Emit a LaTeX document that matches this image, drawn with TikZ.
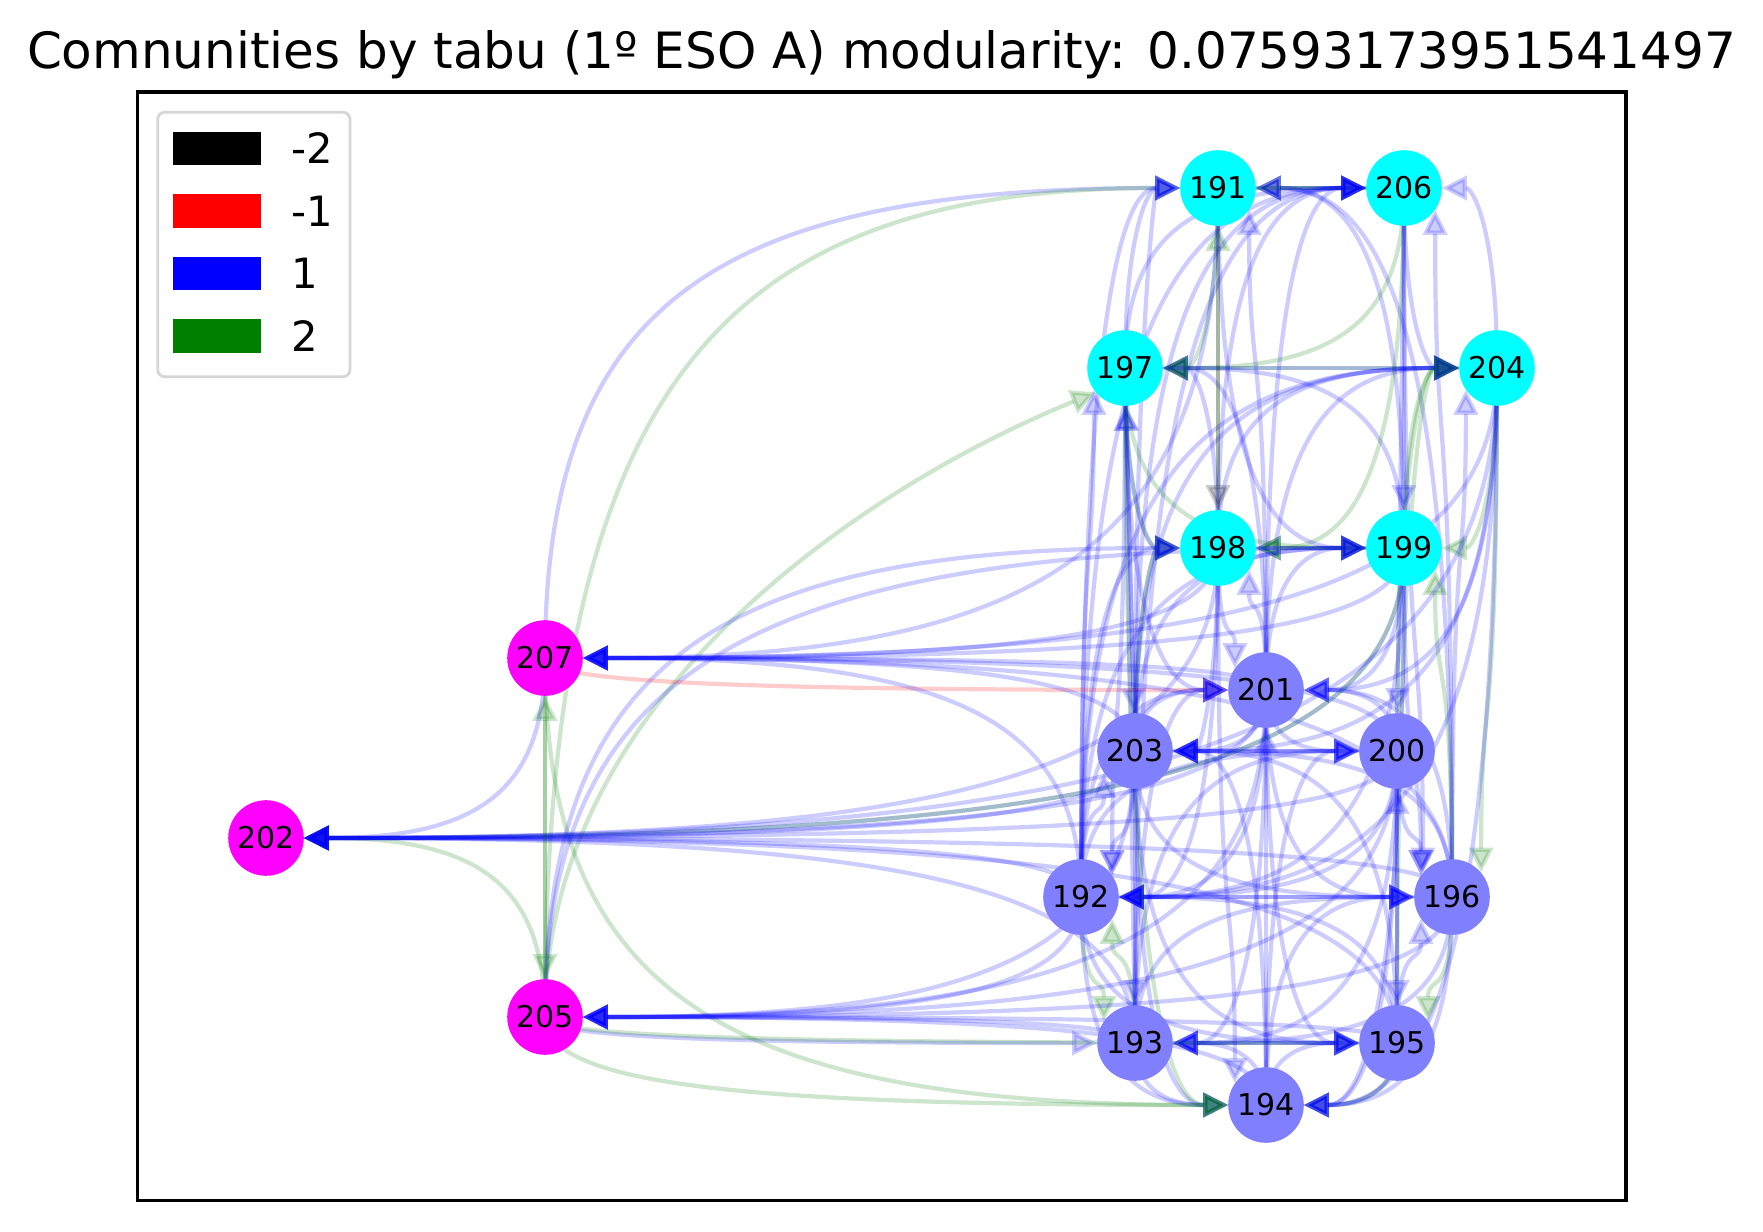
\documentclass[tikz,border=0pt]{standalone}
\usepackage{fontspec}
\setmainfont{DejaVu Sans}
\usetikzlibrary{arrows.meta,calc}
\pgfdeclarelayer{bgl}
\pgfdeclarelayer{edges}
\pgfsetlayers{bgl,edges,main}
\definecolor{ncyan}{RGB}{0,255,255}
\definecolor{nmag}{RGB}{255,0,255}
\definecolor{nblue}{RGB}{128,128,255}
\definecolor{egreen}{RGB}{0,128,0}
\definecolor{eblue}{RGB}{0,0,255}
\definecolor{ered}{RGB}{255,0,0}
\definecolor{eblack}{RGB}{0,0,0}
\definecolor{legline}{RGB}{214,214,214}
\tikzset{
  vx/.style={circle, minimum size=75.6pt, inner sep=0pt, draw=none, font=\fontsize{30}{36}\selectfont},
  ed/.style={line width=4.2pt, draw=#1, opacity=0.2, -{Triangle[length=25pt,width=24pt]}, shorten >=37.8pt},
  edk/.style={line width=4.2pt, draw=#1, opacity=0.2, -{Triangle[length=25pt,width=24pt]}},
  legpatch/.style={fill=#1, draw=none},
  leglabel/.style={anchor=base west, inner sep=0pt, font=\fontsize{41.7}{50}\selectfont},
}
% straight edge
\newcommand\EdS[3]{\draw[ed=#3] (#1.center) -- (#2.center);}
% curved edge: vertical out of the source, horizontal into the target
\newcommand\EdC[3]{\draw[ed=#3] (#1.center) .. controls ($(#1.center)!0.75!(#1.center|-#2.center)$) and ($(#2.center)!0.75!(#1.center|-#2.center)$) .. (#2.center);}
% curved edge with a short horizontal leg: ends on the target border at the given angle
\newcommand\EdK[4]{\draw[edk=#3] (#1.center) .. controls ($(#1.center)!0.75!(#1.center|-#2.center)$) and ($(#2.#4)!0.4!(#2.#4|-#1.center)$) .. (#2.#4);}
\begin{document}
\begin{tikzpicture}[x=1pt,y=-1pt]
\useasboundingbox (0,0) rectangle (1763,1231);
\begin{pgfonlayer}{bgl}
\fill[white] (0,0) rectangle (1763,1231);
\end{pgfonlayer}
% title
\node[anchor=base, inner sep=0pt, font=\fontsize{50}{60}\selectfont] (title) at (881.5,68) {Comnunities by tabu (1º ESO A) modularity: 0.07593173951541497};
% frame
\draw[line width=3.3pt] (137.5,92) rectangle (1626,1200.5);
% nodes
\node[vx, fill=ncyan] (n191) at (1218,188) {191};
\node[vx, fill=ncyan] (n206) at (1404,188) {206};
\node[vx, fill=ncyan] (n197) at (1125,368) {197};
\node[vx, fill=ncyan] (n204) at (1497,368) {204};
\node[vx, fill=ncyan] (n198) at (1218,548) {198};
\node[vx, fill=ncyan] (n199) at (1404,548) {199};
\node[vx, fill=nmag] (n207) at (545,658) {207};
\node[vx, fill=nblue] (n201) at (1266,690) {201};
\node[vx, fill=nblue] (n203) at (1135,751) {203};
\node[vx, fill=nblue] (n200) at (1397,751) {200};
\node[vx, fill=nmag] (n202) at (266,838) {202};
\node[vx, fill=nblue] (n192) at (1081,897) {192};
\node[vx, fill=nblue] (n196) at (1452,897) {196};
\node[vx, fill=nmag] (n205) at (545,1017) {205};
\node[vx, fill=nblue] (n193) at (1135,1043) {193};
\node[vx, fill=nblue] (n195) at (1397,1043) {195};
\node[vx, fill=nblue] (n194) at (1266,1105) {194};
\begin{pgfonlayer}{edges}
% -> 191
\EdC{n207}{n191}{eblue}
\EdC{n205}{n191}{egreen}
\EdC{n197}{n191}{eblue}
\EdS{n198}{n191}{egreen}
\EdS{n206}{n191}{eblue}
\EdS{n206}{n191}{egreen}
\EdK{n201}{n191}{eblue}{-35}
\EdC{n199}{n191}{eblue}
\EdC{n192}{n191}{eblue}
\EdC{n203}{n191}{eblue}
\EdC{n196}{n191}{eblue}
% -> 206
\EdS{n191}{n206}{eblue}
\EdS{n191}{n206}{egreen}
\EdC{n204}{n206}{eblue}
\EdC{n197}{n206}{eblue}
\EdC{n198}{n206}{eblue}
\EdC{n203}{n206}{eblue}
\EdC{n192}{n206}{eblue}
\EdC{n201}{n206}{eblue}
\EdK{n196}{n206}{eblue}{-35}
\EdC{n193}{n206}{eblue}
% -> 197
\EdS{n204}{n197}{egreen}
\EdC{n198}{n197}{eblue}
\EdS{n203}{n197}{eblue}
\EdS{n193}{n197}{eblue}
\EdK{n192}{n197}{eblue}{215}
\draw[edk=egreen] (n205.center) .. controls (545,690) and (880,480) .. (n197.220);
\EdC{n199}{n197}{eblue}
\EdC{n201}{n197}{eblue}
\EdC{n206}{n197}{egreen}
\EdC{n191}{n197}{egreen}
% -> 204
\EdS{n197}{n204}{eblue}
\EdC{n206}{n204}{eblue}
\EdC{n198}{n204}{eblue}
\EdC{n203}{n204}{eblue}
\EdC{n192}{n204}{eblue}
\EdC{n199}{n204}{egreen}
\EdC{n200}{n204}{egreen}
\EdC{n195}{n204}{egreen}
\EdK{n196}{n204}{eblue}{215}
\EdC{n201}{n204}{eblue}
% -> 198
\EdS{n191}{n198}{eblack}
\EdC{n197}{n198}{egreen}
\EdC{n197}{n198}{eblue}
\EdC{n203}{n198}{eblue}
\EdC{n203}{n198}{egreen}
\EdC{n205}{n198}{eblue}
\EdS{n199}{n198}{eblue}
\EdS{n199}{n198}{egreen}
\EdK{n201}{n198}{eblue}{-35}
\EdC{n192}{n198}{eblue}
\EdC{n206}{n198}{egreen}
% -> 199
\EdS{n198}{n199}{eblue}
\EdS{n206}{n199}{eblue}
\EdC{n201}{n199}{eblue}
\EdC{n204}{n199}{egreen}
\EdK{n196}{n199}{egreen}{-35}
\EdC{n203}{n199}{eblue}
\EdC{n192}{n199}{eblue}
\EdC{n197}{n199}{egreen}
\EdC{n191}{n199}{eblue}
\EdC{n205}{n199}{eblue}
% -> 201
\EdC{n207}{n201}{ered}
\EdK{n198}{n201}{eblue}{145}
\EdC{n197}{n201}{eblue}
\EdC{n203}{n201}{eblue}
\EdC{n192}{n201}{eblue}
\EdC{n199}{n201}{eblue}
\EdC{n200}{n201}{eblue}
\EdC{n204}{n201}{eblue}
\EdC{n196}{n201}{eblue}
\EdS{n194}{n201}{eblue}
\EdC{n193}{n201}{eblue}
% -> 203
\EdS{n200}{n203}{eblue}
\EdS{n197}{n203}{eblue}
\EdK{n192}{n203}{eblue}{215}
\EdC{n196}{n203}{eblue}
\EdC{n194}{n203}{eblue}
\EdC{n201}{n203}{eblue}
\EdC{n195}{n203}{eblue}
\EdC{n198}{n203}{eblue}
\EdC{n204}{n203}{eblue}
% -> 200
\EdS{n203}{n200}{eblue}
\EdC{n201}{n200}{eblue}
\EdS{n195}{n200}{eblue}
\EdS{n206}{n200}{eblue}
\EdC{n192}{n200}{eblue}
\EdC{n193}{n200}{eblue}
\EdC{n194}{n200}{eblue}
% -> 192
\EdS{n196}{n192}{eblue}
\EdK{n203}{n192}{eblue}{35}
\EdK{n197}{n192}{eblue}{35}
\EdK{n193}{n192}{egreen}{-35}
\EdC{n200}{n192}{eblue}
\EdC{n201}{n192}{eblue}
\EdC{n198}{n192}{eblue}
\EdC{n199}{n192}{eblue}
\EdC{n195}{n192}{eblue}
\EdC{n204}{n192}{eblue}
% -> 196
\EdS{n192}{n196}{eblue}
\EdK{n199}{n196}{eblue}{145}
\EdK{n200}{n196}{eblue}{145}
\EdK{n206}{n196}{eblue}{140}
\EdK{n204}{n196}{egreen}{40}
\EdK{n195}{n196}{eblue}{215}
\EdC{n194}{n196}{eblue}
\EdC{n193}{n196}{eblue}
\EdC{n203}{n196}{eblue}
\EdC{n201}{n196}{eblue}
% -> 193
\EdS{n203}{n193}{eblue}
\EdC{n205}{n193}{eblue}
\EdK{n192}{n193}{egreen}{145}
\EdS{n195}{n193}{eblue}
\EdC{n196}{n193}{eblue}
\EdC{n200}{n193}{eblue}
\EdC{n194}{n193}{eblue}
\EdC{n201}{n193}{eblue}
% -> 195
\EdS{n193}{n195}{eblue}
\EdK{n196}{n195}{egreen}{35}
\EdS{n200}{n195}{eblue}
\EdC{n205}{n195}{egreen}
\EdC{n192}{n195}{eblue}
\EdC{n203}{n195}{eblue}
\EdC{n194}{n195}{eblue}
\EdC{n201}{n195}{eblue}
% -> 194
\EdC{n193}{n194}{eblue}
\EdC{n192}{n194}{eblue}
\EdC{n203}{n194}{eblue}
\EdC{n197}{n194}{egreen}
\EdC{n205}{n194}{egreen}
\EdC{n207}{n194}{egreen}
\EdC{n195}{n194}{eblue}
\EdC{n195}{n194}{egreen}
\EdC{n196}{n194}{eblue}
\EdC{n200}{n194}{eblue}
\EdC{n199}{n194}{eblue}
\EdC{n204}{n194}{eblue}
\EdK{n198}{n194}{eblue}{145}
% -> 207
\EdC{n198}{n207}{eblue}
\EdC{n199}{n207}{eblue}
\EdC{n204}{n207}{eblue}
\EdC{n191}{n207}{eblue}
\EdC{n201}{n207}{eblue}
\EdC{n203}{n207}{eblue}
\EdC{n192}{n207}{eblue}
\EdC{n196}{n207}{eblue}
\EdC{n200}{n207}{eblue}
\EdS{n205}{n207}{egreen}
% -> 202
\EdC{n207}{n202}{eblue}
\EdC{n205}{n202}{egreen}
\EdC{n198}{n202}{eblue}
\EdC{n199}{n202}{eblue}
\EdC{n199}{n202}{egreen}
\EdC{n201}{n202}{eblue}
\EdC{n203}{n202}{eblue}
\EdC{n200}{n202}{eblue}
\EdC{n204}{n202}{eblue}
\EdC{n192}{n202}{eblue}
\EdC{n196}{n202}{eblue}
\EdC{n195}{n202}{eblue}
\EdC{n193}{n202}{eblue}
% -> 205
\EdS{n207}{n205}{egreen}
\EdC{n192}{n205}{eblue}
\EdC{n203}{n205}{eblue}
\EdC{n200}{n205}{eblue}
\EdC{n196}{n205}{eblue}
\EdC{n193}{n205}{eblue}
\EdC{n195}{n205}{eblue}
\EdC{n201}{n205}{eblue}
\EdC{n194}{n205}{eblue}
\end{pgfonlayer}
% legend
\draw[legline, line width=2.8pt, rounded corners=7pt, fill=white] (157.7,112.3) rectangle (350,376.7);
\fill[legpatch=black] (173,131.7) rectangle (261,165);
\fill[legpatch=red] (173,194.3) rectangle (261,227.7);
\fill[legpatch=blue] (173,256.7) rectangle (261,290);
\fill[legpatch=egreen] (173,319.3) rectangle (261,352.7);
\node[leglabel] (lm2) at (291,163.5) {-2};
\node[leglabel] (lm1) at (291,226) {-1};
\node[leglabel] (lp1) at (291,288.5) {1};
\node[leglabel] (lp2) at (291,351) {2};
\end{tikzpicture}
\end{document}
